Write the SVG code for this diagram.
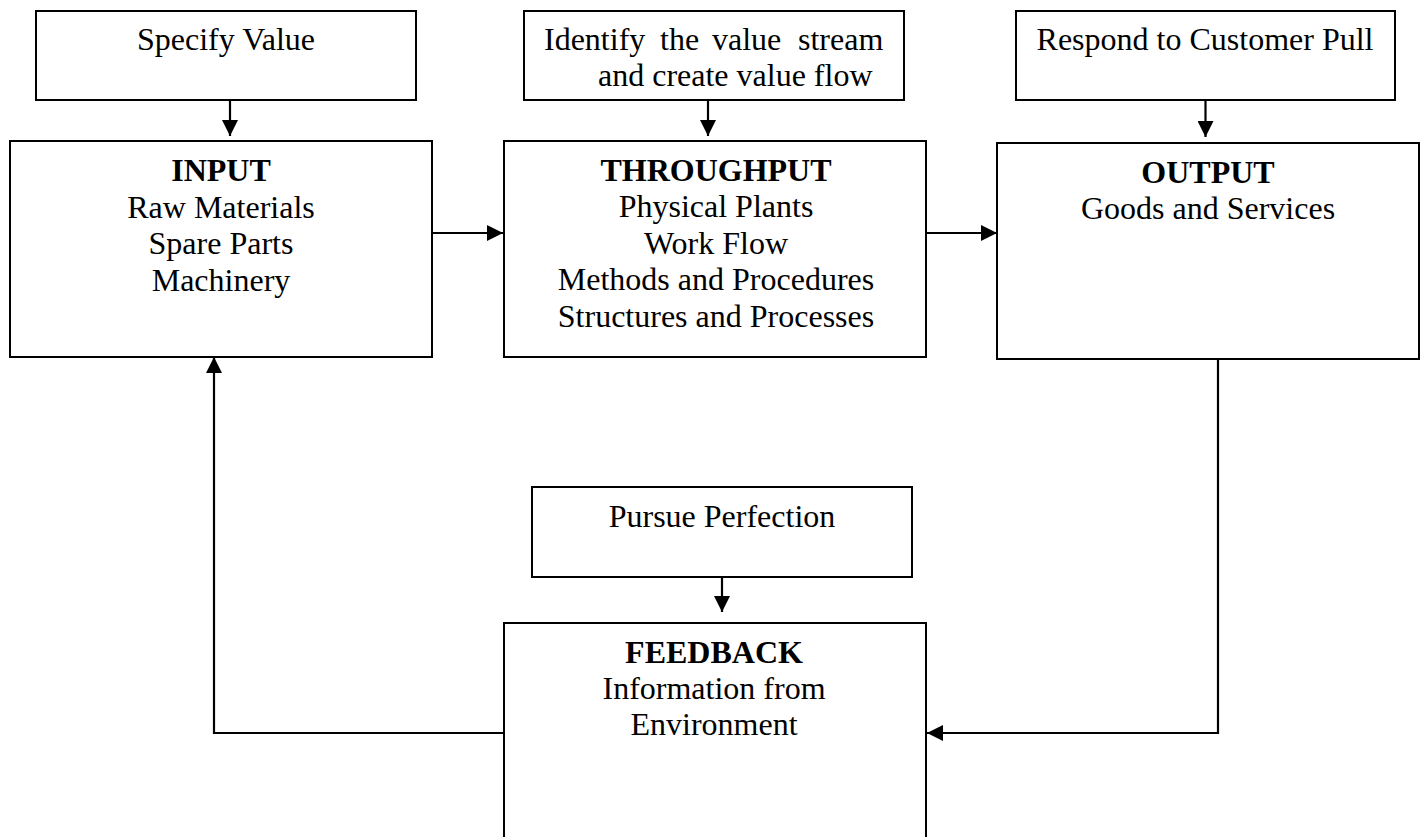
<svg xmlns="http://www.w3.org/2000/svg" width="1424" height="837" viewBox="0 0 1424 837">
<style>
.box{fill:#fff;stroke:#000;stroke-width:2}
.t{font-family:"Liberation Serif","Times New Roman",serif;font-size:32px;fill:#000;text-anchor:middle}
.b{font-weight:bold}
.c{fill:none;stroke:#000;stroke-width:2.2}
</style>
<defs>
<marker id="ah" markerUnits="userSpaceOnUse" markerWidth="17" markerHeight="16" refX="16" refY="8" orient="auto">
<path d="M0,0 L16,8 L0,16 z" fill="#000"/>
</marker>
</defs>
<rect width="1424" height="837" fill="#fff"/>
<g id="specify">
<rect class="box" x="36" y="11" width="380" height="89"/>
<text class="t" x="226" y="50">Specify Value</text>
</g>
<g id="identify">
<rect class="box" x="524" y="11" width="380" height="89"/>
<text class="t" style="text-anchor:start" y="50"><tspan x="544">Identify</tspan><tspan x="660">the</tspan><tspan x="712">value</tspan><tspan x="798">stream</tspan></text>
<text class="t" style="text-anchor:start" x="598" y="86">and create value flow</text>
</g>
<g id="respond">
<rect class="box" x="1016" y="11" width="379" height="89"/>
<text class="t" x="1205" y="50">Respond to Customer Pull</text>
</g>
<g id="input">
<rect class="box" x="10" y="141" width="422" height="216"/>
<text class="t b" x="221" y="181">INPUT</text>
<text class="t" x="221" y="217.5">Raw Materials</text>
<text class="t" x="221" y="254">Spare Parts</text>
<text class="t" x="221" y="290.5">Machinery</text>
</g>
<g id="throughput">
<rect class="box" x="504" y="141" width="422" height="216"/>
<text class="t b" x="716" y="180.5">THROUGHPUT</text>
<text class="t" x="716" y="217">Physical Plants</text>
<text class="t" x="716" y="253.5">Work Flow</text>
<text class="t" x="716" y="290">Methods and Procedures</text>
<text class="t" x="716" y="326.5">Structures and Processes</text>
</g>
<g id="output">
<rect class="box" x="997" y="143" width="422" height="216"/>
<text class="t b" x="1208" y="182.5">OUTPUT</text>
<text class="t" x="1208" y="218.5">Goods and Services</text>
</g>
<g id="pursue">
<rect class="box" x="532" y="487" width="380" height="90"/>
<text class="t" x="722" y="527">Pursue Perfection</text>
</g>
<g id="feedback">
<rect class="box" x="504" y="623" width="422" height="240"/>
<text class="t b" x="714" y="663">FEEDBACK</text>
<text class="t" x="714" y="699">Information from</text>
<text class="t" x="714" y="735">Environment</text>
</g>
<g id="connectors">
<line class="c" x1="230" y1="100" x2="230" y2="136" marker-end="url(#ah)"/>
<line class="c" x1="708" y1="100" x2="708" y2="136" marker-end="url(#ah)"/>
<line class="c" x1="1205.5" y1="100" x2="1205.5" y2="137" marker-end="url(#ah)"/>
<line class="c" x1="432" y1="233" x2="503" y2="233" marker-end="url(#ah)"/>
<line class="c" x1="926" y1="233" x2="997" y2="233" marker-end="url(#ah)"/>
<line class="c" x1="722" y1="577" x2="722" y2="612" marker-end="url(#ah)"/>
<polyline class="c" points="1218,359 1218,733 927,733" marker-end="url(#ah)"/>
<polyline class="c" points="504,733 214,733 214,357" marker-end="url(#ah)"/>
</g>
</svg>
